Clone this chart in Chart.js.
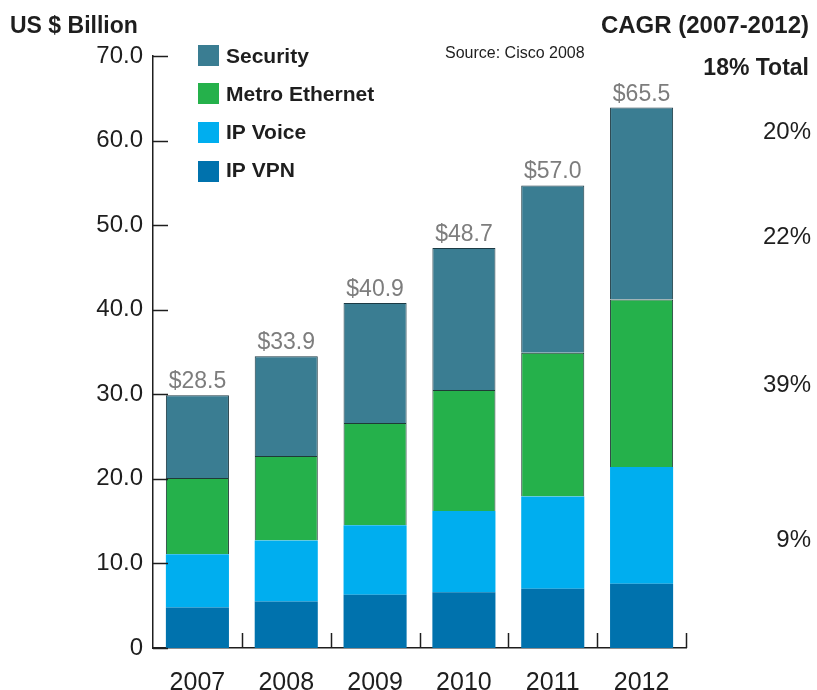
<!DOCTYPE html>
<html>
<head>
<meta charset="utf-8">
<script src="https://cdn.jsdelivr.net/npm/chart.js@4/dist/chart.umd.min.js"></script>
<style>
  body { margin: 0; background: #fff; }
  #wrap { position: relative; width: 817px; height: 690px; }
</style>
</head>
<body>
<div id="wrap"><canvas id="chart"></canvas></div>
<script>
(function () {
    'use strict'

    // years on the x axis
    const years = ['2007', '2008', '2009', '2010', '2011', '2012'];

    // segment values (US $ billion)
    const ipVpn    = [4.8, 5.5, 6.3, 6.6, 7.0, 7.6];
    const ipVoice  = [6.3, 7.2, 8.2, 9.6, 10.9, 13.8];
    const metroEth = [9.0, 10.0, 12.1, 14.3, 17.0, 19.8];
    const security = [9.8, 11.8, 14.2, 16.8, 19.8, 22.7];

    // totals printed above the bars
    const totals = [28.5, 33.9, 40.9, 48.7, 57.0, 65.5];

    // CAGR column on the right, top to bottom
    const cagrLabels = ['20%', '22%', '39%', '9%'];

    const yTicks = [0, 10, 20, 30, 40, 50, 60, 70];

    const FONT = '"Liberation Sans", Arial, sans-serif';
    const INK = '#1e1e1e';

    const colors = {
        security: '#3a7d92',
        metro: '#25b14b',
        voice: '#00aeef',
        vpn: '#0072ad'
    };

    // extra drawing: tick marks, totals, legend, titles
    const decor = {
        id: 'decor',
        afterDraw(chart) {
            const c = chart.ctx;
            const x = chart.scales.x;
            const y = chart.scales.y;
            const area = chart.chartArea;
            c.save();

            // tick marks pointing into the plot
            c.strokeStyle = INK;
            c.lineWidth = 1.5;
            yTicks.forEach(function (v) {
                const py = Math.round(y.getPixelForValue(v)) + 0.5;
                c.beginPath();
                c.moveTo(area.left, py);
                c.lineTo(area.left + 15, py);
                c.stroke();
            });
            const step = (area.right - area.left) / years.length;
            for (let i = 1; i <= years.length; i++) {
                const px = Math.round(x.getPixelForValue(i - 1) + step / 2) + 0.5;
                c.beginPath();
                c.moveTo(px, area.bottom);
                c.lineTo(px, area.bottom - 15);
                c.stroke();
            }

            // totals above the bars
            const top = chart.getDatasetMeta(3);
            c.fillStyle = '#7d7d7d';
            c.font = '23px ' + FONT;
            c.textAlign = 'center';
            c.textBaseline = 'alphabetic';
            top.data.forEach(function (bar, i) {
                c.fillText('$' + totals[i].toFixed(1), bar.x, bar.y - 7);
            });

            // legend (top series first)
            const legendRows = [
                ['Security', colors.security, 45, 63],
                ['Metro Ethernet', colors.metro, 83, 101],
                ['IP Voice', colors.voice, 122, 139],
                ['IP VPN', colors.vpn, 161, 177]
            ];
            c.textAlign = 'left';
            c.font = 'bold 21px ' + FONT;
            legendRows.forEach(function (r) {
                c.fillStyle = r[1];
                c.fillRect(198, r[2], 21, 21);
                c.fillStyle = INK;
                c.fillText(r[0], 226, r[3]);
            });

            // titles
            c.fillStyle = INK;
            c.font = 'bold 23px ' + FONT;
            c.fillText('US $ Billion', 10, 33);
            c.font = '16px ' + FONT;
            c.fillText('Source: Cisco 2008', 445, 58);
            c.textAlign = 'right';
            c.font = 'bold 24px ' + FONT;
            c.fillText('CAGR (2007-2012)', 809, 33);
            c.font = 'bold 23px ' + FONT;
            c.fillText('18% Total', 809, 75);

            c.font = '24px ' + FONT;
            const cagrY = [139, 244, 392, 547];
            cagrLabels.forEach(function (t, i) {
                c.fillText(t, 811, cagrY[i]);
            });

            c.restore();
        }
    };

    const ctx = document.getElementById('chart');
    new Chart(ctx, {
        type: 'bar',
        data: {
            labels: years,
            datasets: [
                { label: 'IP VPN', data: ipVpn, backgroundColor: colors.vpn, borderWidth: 0 },
                { label: 'IP Voice', data: ipVoice, backgroundColor: colors.voice, borderWidth: 0 },
                { label: 'Metro Ethernet', data: metroEth, backgroundColor: colors.metro,
                  borderColor: '#1f3b36', borderWidth: 1 },
                { label: 'Security', data: security, backgroundColor: colors.security,
                  borderColor: '#1c3a44', borderWidth: 1 }
            ]
        },
        options: {
            responsive: true,
            maintainAspectRatio: false,
            animation: false,
            layout: {
                padding: { left: 0, right: 131, top: 56, bottom: 0 }
            },
            datasets: {
                bar: { barPercentage: 0.71, categoryPercentage: 1.0 }
            },
            scales: {
                x: {
                    stacked: true,
                    grid: { display: false, drawTicks: false },
                    border: { display: true, color: INK, width: 1.5 },
                    ticks: {
                        color: INK,
                        padding: 20,
                        font: { family: FONT, size: 25 }
                    },
                    afterFit(scale) { scale.height = 42; }
                },
                y: {
                    stacked: true,
                    min: 0,
                    max: 70,
                    grid: { display: false, drawTicks: false },
                    border: { display: true, color: INK, width: 1.5 },
                    ticks: {
                        stepSize: 10,
                        color: INK,
                        padding: 10,
                        font: { family: FONT, size: 24 },
                        callback: function (v) { return v === 0 ? '0' : v.toFixed(1); }
                    },
                    afterFit(scale) { scale.width = 153; }
                }
            },
            plugins: {
                legend: { display: false },
                tooltip: { enabled: false }
            }
        },
        plugins: [decor]
    });
})()
</script>
</body>
</html>
